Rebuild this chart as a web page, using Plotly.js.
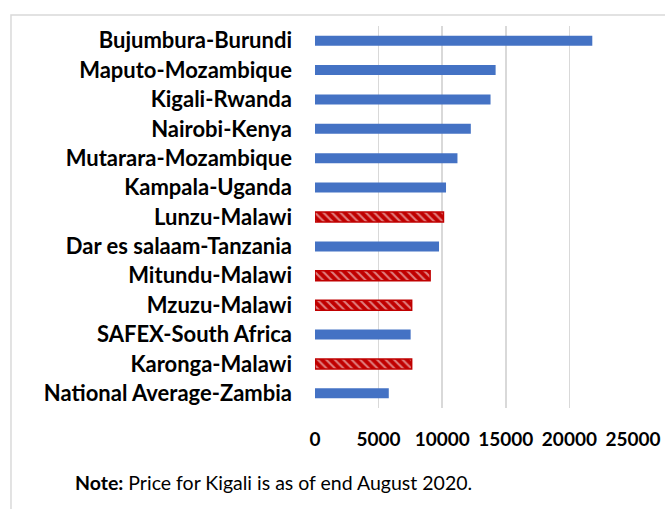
<!DOCTYPE html>
<html>
<head>
<meta charset="utf-8">
<script src="https://cdn.plot.ly/plotly-3.0.1.min.js"></script>
<style>html,body{margin:0;padding:0;background:#fff;}#chart{width:665px;height:509px;}</style>
</head>
<body>
<div id="chart"></div>
<script>
const markets = ["Bujumbura-Burundi","Maputo-Mozambique","Kigali-Rwanda","Nairobi-Kenya","Mutarara-Mozambique","Kampala-Uganda","Lunzu-Malawi","Dar es salaam-Tanzania","Mitundu-Malawi","Mzuzu-Malawi","SAFEX-South Africa","Karonga-Malawi","National Average-Zambia"];
const prices = [21800,14200,13800,12250,11200,10300,10100,9750,9050,7600,7520,7600,5800];
const isMalawi = [false,false,false,false,false,false,true,false,true,true,false,true,false];
const xTicks = [0,5000,10000,15000,20000,25000];
const noteText = "<b>Note:</b> Price for Kigali is as of end August 2020.";

const blue = "#4472C4", red = "#C00000";
const trace = {
  type: "bar", orientation: "h",
  y: markets, x: prices,
  marker: {
    color: isMalawi.map(m => m ? red : blue),
    line: {color: isMalawi.map(m => m ? red : blue), width: isMalawi.map(m => m ? 1.5 : 0)},
    pattern: {
      shape: isMalawi.map(m => m ? "\\" : ""),
      fgcolor: "#ffffff",
      bgcolor: red,
      fillmode: "overlay",
      size: 6,
      solidity: 0.35
    }
  },
  hoverinfo: "x+y"
};
const font = "Lato, 'Open Sans', sans-serif";
const layout = {
  width: 665, height: 509,
  margin: {l: 315, r: 32, t: 26, b: 101},
  paper_bgcolor: "#fff", plot_bgcolor: "#fff",
  showlegend: false,
  bargap: 0.66,
  xaxis: {
    range: [0, 25000], tickvals: xTicks, ticktext: xTicks.map(String),
    showgrid: true, gridcolor: "#D9D9D9", gridwidth: 1.5, zeroline: false,
    showline: false, ticks: "", ticklabelstandoff: 18,
    tickfont: {family: font, size: 19, color: "#000", weight: "bold"}
  },
  yaxis: {
    autorange: "reversed", type: "category",
    showgrid: false, zeroline: false, showline: false, ticks: "",
    ticklabelstandoff: 22,
    tickfont: {family: font, size: 22, color: "#000", weight: "bold"}
  },
  annotations: [{
    text: noteText, xref: "paper", yref: "paper",
    x: -0.762, y: -0.196, xanchor: "left", yanchor: "middle",
    showarrow: false, font: {family: font, size: 19.5, color: "#000"}
  }],
  shapes: [{
    type: "rect", xref: "paper", yref: "paper",
    x0: -0.956, x1: 1.2, y0: -0.4, y1: 1.0288,
    line: {color: "#D9D9D9", width: 1.5}, fillcolor: "rgba(0,0,0,0)", layer: "below"
  }]
};
Plotly.newPlot("chart", [trace], layout, {displayModeBar: false, staticPlot: true});
</script>
</body>
</html>
